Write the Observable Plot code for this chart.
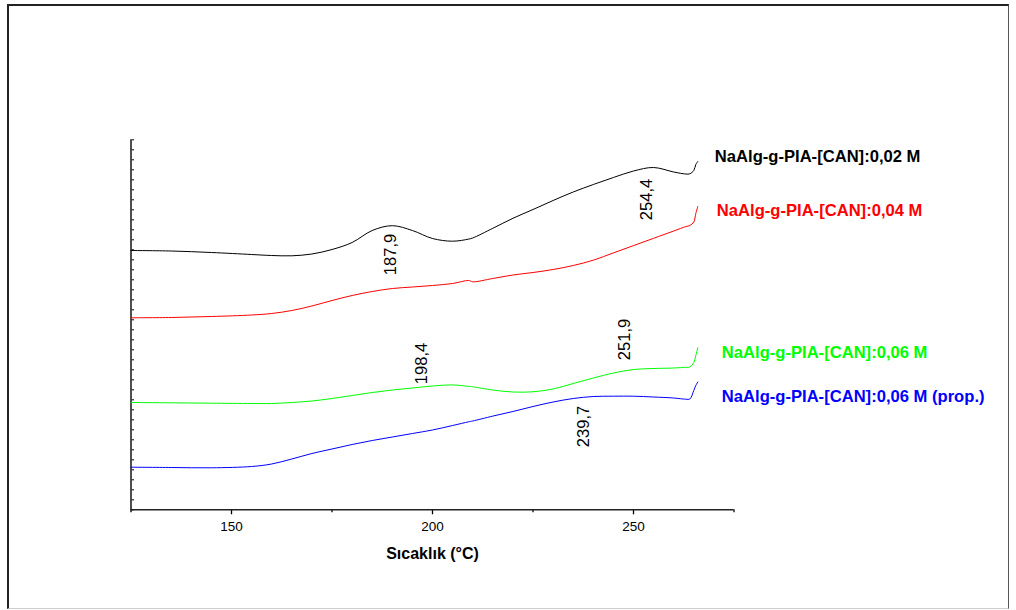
<!DOCTYPE html>
<html><head><meta charset="utf-8">
<script src="https://cdn.jsdelivr.net/npm/d3@7"></script>
<script src="https://cdn.jsdelivr.net/npm/@observablehq/plot@0.6"></script>
<style>
body{margin:0;background:#fff;font-family:Arial,"Liberation Sans",sans-serif;}
#wrap{position:relative;width:1016px;height:610px;}
#border{position:absolute;left:7px;top:4px;width:1002px;height:605px;border-top:2px solid #222;border-left:2px solid #222;border-right:1px solid #555;border-bottom:1px solid #ccc;box-sizing:border-box;pointer-events:none}
#chart{position:absolute;left:0;top:0}
</style></head><body>
<div id="wrap"><div id="chart"></div><div id="border"></div></div>
<script>
// Temperature (°C) sample points
const temps = [125,135,145,155,160,165,170,175,180,185,190,195,200,205,209,210,215,220,225,230,235,240,245,250,255,260,263,264,265,265.5,266];
// Heat-flow signals (arbitrary units, curves are offset vertically)
const black = [25.93,25.88,25.73,25.53,25.43,25.40,25.58,26.03,26.73,27.93,28.41,27.93,27.13,26.86,27.07,27.18,28.15,29.15,30.03,30.93,31.78,32.53,33.23,33.88,34.23,33.78,33.58,33.60,33.93,34.53,34.83];
const red   = [19.20,19.23,19.33,19.48,19.63,19.93,20.38,20.93,21.43,21.83,22.13,22.28,22.43,22.63,22.93,22.80,23.13,23.48,23.73,24.03,24.43,24.96,25.69,26.42,27.15,27.88,28.32,28.43,28.78,29.63,30.33];
const green = [10.73,10.70,10.66,10.63,10.63,10.73,10.88,11.13,11.43,11.73,11.98,12.18,12.38,12.49,12.34,12.30,11.98,11.78,11.80,12.08,12.63,13.18,13.68,14.03,14.13,14.18,14.25,14.28,14.73,15.43,16.23];
const blue  = [4.26,4.23,4.20,4.33,4.58,5.08,5.63,6.08,6.53,6.93,7.28,7.63,7.98,8.43,8.80,8.88,9.37,9.83,10.33,10.78,11.13,11.33,11.36,11.36,11.28,11.18,11.06,11.08,11.93,12.43,12.78];
const seriesNames = ["NaAlg-g-PIA-[CAN]:0,02 M","NaAlg-g-PIA-[CAN]:0,04 M","NaAlg-g-PIA-[CAN]:0,06 M","NaAlg-g-PIA-[CAN]:0,06 M (prop.)"];
const xTicks = [150,200,250];
const xMinorTicks = [175,225,275];
const yTicks = d3.range(0,38);
// Peak annotations
const peakLabels = ["187,9","254,4","198,4","251,9","239,7"];
const peakX = [189.6,253.3,197.3,247.8,237.5];
const peakY = [25.53,31.03,14.63,17.03,8.33];

const colors = ["#000000","#ff0000","#00ff00","#0000ff"];
const labelOffsets = [[17,-5],[19,4],[24,5],[24,15]];
const seriesValues = [black, red, green, blue];

const rows = [];
seriesValues.forEach((vals, s) => temps.forEach((t, i) => rows.push({t, v: vals[i], series: seriesNames[s]})));
const peaks = peakLabels.map((l, i) => ({label: l, x: peakX[i], y: peakY[i]}));

const font = 'Arial, "Liberation Sans", sans-serif';
const chart = Plot.plot({
  width: 1016, height: 610,
  marginLeft: 130.5, marginRight: 282.5, marginTop: 139.3, marginBottom: 100.7,
  style: {fontFamily: font, fontSize: "13px", color: "#000", background: "transparent"},
  x: {domain: [125, 275]},
  y: {domain: [0, 37]},
  color: {domain: seriesNames, range: colors},
  marks: [
    Plot.axisX({ticks: xTicks, tickSize: 5, tickPadding: 7, fontSize: 13.5, label: null, strokeWidth: 1.3}),
    Plot.axisX({ticks: xMinorTicks, tickSize: 3, tickFormat: () => "", label: null, strokeWidth: 1.3}),
    Plot.axisY({anchor: "right", frameAnchor: "left", ticks: yTicks, tickSize: 2.5, tickFormat: () => "", label: null, strokeWidth: 1}),
    Plot.ruleY([0], {strokeWidth: 1.4, stroke: "#222"}),
    Plot.ruleX([125], {strokeWidth: 1.6, stroke: "#222", insetBottom: -3}),
    Plot.line(rows, {x: "t", y: "v", z: "series", stroke: "series", strokeWidth: 1, curve: "catmull-rom"}),
    ...seriesNames.map((name, s) => Plot.text(rows, Plot.selectLast({
      filter: d => d.series === name, x: "t", y: "v", text: "series",
      dx: labelOffsets[s][0], dy: labelOffsets[s][1], textAnchor: "start",
      fill: colors[s], fontWeight: "bold", fontSize: 16.6
    }))),
    Plot.text(peaks, {x: "x", y: "y", text: "label", rotate: -90, fontSize: 16.5, fill: "#000"}),
    Plot.text(["Sıcaklık (°C)"], {frameAnchor: "bottom", dy: 49, fontWeight: "bold", fontSize: 16, fill: "#000"})
  ]
});
document.getElementById("chart").appendChild(chart);
</script>
</body></html>
